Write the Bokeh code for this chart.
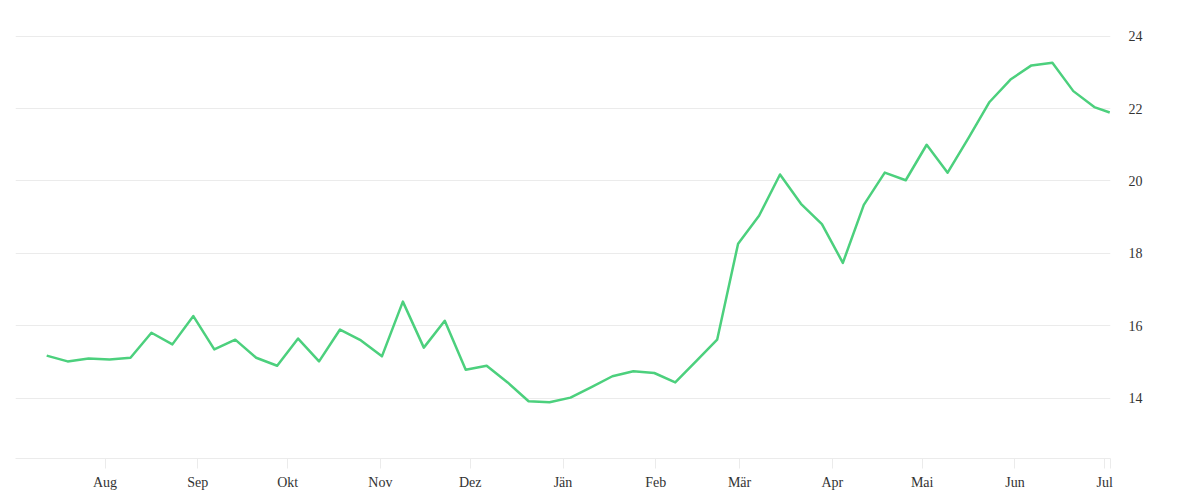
import pandas as pd
from bokeh.plotting import figure
from bokeh.models import (ColumnDataSource, FixedTicker, CustomJSTickFormatter,
                          Range1d, LinearAxis, DatetimeAxis)
from bokeh.embed import file_html
from bokeh.resources import INLINE

# ---- data (weekly values) ----
dates = [
    "2022-07-12 12:00", "2022-07-19 12:00", "2022-07-26 12:00", "2022-08-02 12:00",
    "2022-08-09 12:00", "2022-08-16 12:00", "2022-08-23 12:00", "2022-08-30 12:00",
    "2022-09-06 12:00", "2022-09-13 12:00", "2022-09-20 12:00", "2022-09-27 12:00",
    "2022-10-04 12:00", "2022-10-11 12:00", "2022-10-18 12:00", "2022-10-25 12:00",
    "2022-11-01 12:00", "2022-11-08 12:00", "2022-11-15 12:00", "2022-11-22 12:00",
    "2022-11-29 12:00", "2022-12-06 12:00", "2022-12-13 12:00", "2022-12-20 12:00",
    "2022-12-27 12:00", "2023-01-03 12:00", "2023-01-10 12:00", "2023-01-17 12:00",
    "2023-01-24 12:00", "2023-01-31 12:00", "2023-02-07 12:00", "2023-02-14 12:00",
    "2023-02-21 12:00", "2023-02-28 12:00", "2023-03-07 12:00", "2023-03-14 12:00",
    "2023-03-21 12:00", "2023-03-28 12:00", "2023-04-04 12:00", "2023-04-11 12:00",
    "2023-04-18 12:00", "2023-04-25 12:00", "2023-05-02 12:00", "2023-05-09 12:00",
    "2023-05-16 12:00", "2023-05-23 12:00", "2023-05-30 12:00", "2023-06-06 12:00",
    "2023-06-13 12:00", "2023-06-20 12:00", "2023-06-27 12:00", "2023-07-02 16:00",
]
values = [
    15.18, 15.02, 15.10, 15.07, 15.12, 15.81, 15.49, 16.27,
    15.35, 15.62, 15.12, 14.90, 15.65, 15.02, 15.90, 15.60,
    15.16, 16.67, 15.40, 16.14, 14.79, 14.90, 14.44, 13.92,
    13.89, 14.02, 14.31, 14.61, 14.75, 14.70, 14.44, 15.03,
    15.62, 18.27, 19.04, 20.18, 19.37, 18.81, 17.74, 19.34,
    20.23, 20.02, 21.00, 20.23, 21.19, 22.18, 22.80, 23.19,
    23.26, 22.48, 22.04, 21.89,
]
month_labels = ["Jän", "Feb", "Mär", "Apr", "Mai", "Jun",
                "Jul", "Aug", "Sep", "Okt", "Nov", "Dez"]
month_ticks = ["2022-08-01", "2022-09-01", "2022-10-01", "2022-11-01",
               "2022-12-01", "2023-01-01", "2023-02-01", "2023-03-01",
               "2023-04-01", "2023-05-01", "2023-06-01", "2023-07-01"]
y_ticks = [14, 16, 18, 20, 22, 24]

x_start = pd.Timestamp("2022-07-02 02:00")
x_end = pd.Timestamp("2023-07-02 22:00")


def ms(t):
    return pd.Timestamp(t).value / 1e6


src = ColumnDataSource(dict(x=pd.to_datetime(dates), y=values))

FONT = "Liberation Serif"
GRID = "#ebebeb"
TEXT = "#333333"

p = figure(width=1192, height=492, output_backend="svg", toolbar_location=None,
           x_axis_type=None, y_axis_location=None,
           x_range=Range1d(ms(x_start), ms(x_end)),
           y_range=Range1d(12.34, 24.65),
           min_border_left=15, min_border_top=12, min_border_right=82,
           min_border_bottom=34)
p.outline_line_color = None
p.background_fill_color = "white"
p.border_fill_color = "white"

xticks = [ms(t) for t in month_ticks] + [ms(x_end)]
xaxis = DatetimeAxis(ticker=FixedTicker(ticks=xticks, minor_ticks=[]))
xaxis.formatter = CustomJSTickFormatter(args=dict(names=month_labels), code="""
    const d = new Date(tick);
    if (d.getUTCDate() !== 1 || d.getUTCHours() !== 0) { return ""; }
    return names[d.getUTCMonth()];
""")
xaxis.axis_line_color = GRID
xaxis.major_tick_line_color = GRID
xaxis.major_tick_out = 10
xaxis.major_tick_in = 0
xaxis.minor_tick_line_color = None
xaxis.major_label_standoff = 6
xaxis.major_label_text_font = FONT
xaxis.major_label_text_font_size = "14px"
xaxis.major_label_text_color = TEXT
p.add_layout(xaxis, "below")

yaxis = LinearAxis(ticker=FixedTicker(ticks=y_ticks, minor_ticks=[]))
yaxis.axis_line_color = None
yaxis.major_tick_line_color = None
yaxis.minor_tick_line_color = None
yaxis.major_tick_out = 0
yaxis.major_tick_in = 0
yaxis.major_label_standoff = 18
yaxis.major_label_text_font = FONT
yaxis.major_label_text_font_size = "14px"
yaxis.major_label_text_color = TEXT
p.add_layout(yaxis, "right")

p.xgrid.grid_line_color = GRID
p.ygrid.grid_line_color = GRID
p.xgrid.ticker = xaxis.ticker
p.ygrid.ticker = yaxis.ticker
p.xgrid.grid_line_width = 1
p.ygrid.grid_line_width = 1

p.line("x", "y", source=src, line_color="#4cd07d", line_width=2.5,
       line_join="round")

open("out.html", "w").write(file_html(p, INLINE))
